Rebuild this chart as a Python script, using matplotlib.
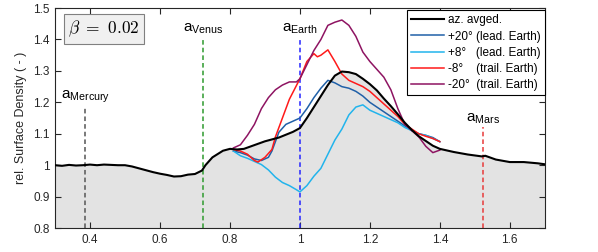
import matplotlib
matplotlib.use('Agg')
import matplotlib.pyplot as plt

plt.rcParams['font.family'] = ['Liberation Sans', 'DejaVu Sans']

# azimuthally averaged profile
avg_x = [0.30, 0.32, 0.34, 0.36, 0.38, 0.40, 0.42, 0.44, 0.46, 0.48, 0.50, 0.52, 0.54, 0.56,
         0.58, 0.60, 0.62, 0.64, 0.66, 0.68, 0.70, 0.72, 0.73, 0.75, 0.78, 0.80, 0.82, 0.84,
         0.86, 0.88, 0.90, 0.92, 0.94, 0.96, 0.98, 1.00, 1.02, 1.04, 1.06, 1.08, 1.10, 1.12,
         1.14, 1.16, 1.18, 1.20, 1.22, 1.24, 1.26, 1.28, 1.30, 1.32, 1.34, 1.36, 1.38, 1.40,
         1.44, 1.48, 1.52, 1.53, 1.56, 1.60, 1.64, 1.68, 1.70]
avg_y = [1.000, 0.998, 1.001, 0.999, 1.000, 1.002, 1.000, 1.002, 1.001, 1.000, 1.000, 0.996,
         0.990, 0.984, 0.978, 0.973, 0.969, 0.964, 0.965, 0.970, 0.972, 0.983, 1.000, 1.025,
         1.046, 1.052, 1.050, 1.052, 1.060, 1.068, 1.076, 1.082, 1.088, 1.097, 1.106, 1.118,
         1.150, 1.185, 1.220, 1.255, 1.285, 1.298, 1.296, 1.290, 1.275, 1.258, 1.238, 1.212,
         1.188, 1.162, 1.135, 1.112, 1.092, 1.077, 1.062, 1.052, 1.042, 1.034, 1.028, 1.030,
         1.018, 1.010, 1.010, 1.006, 1.003]

lead20_x = [0.81, 0.83, 0.85, 0.87, 0.89, 0.91, 0.92, 0.93, 0.94, 0.96, 0.98, 1.00, 1.02, 1.04,
            1.06, 1.08, 1.10, 1.12, 1.14, 1.16, 1.18, 1.20, 1.22, 1.24, 1.26, 1.28, 1.30, 1.32,
            1.34, 1.36, 1.38, 1.40]
lead20_y = [1.045, 1.040, 1.032, 1.020, 1.015, 1.025, 1.045, 1.075, 1.105, 1.130, 1.140, 1.150,
            1.180, 1.215, 1.245, 1.270, 1.262, 1.250, 1.245, 1.235, 1.220, 1.200, 1.185, 1.170,
            1.155, 1.140, 1.125, 1.110, 1.100, 1.095, 1.088, 1.075]

lead8_x = [0.81, 0.83, 0.85, 0.87, 0.89, 0.91, 0.93, 0.95, 0.97, 0.99, 1.00, 1.02, 1.04, 1.06,
           1.08, 1.10, 1.12, 1.14, 1.16, 1.18, 1.20, 1.22, 1.24, 1.26, 1.28, 1.30, 1.32, 1.34,
           1.36, 1.38, 1.40]
lead8_y = [1.045, 1.030, 1.022, 1.012, 1.002, 0.985, 0.962, 0.945, 0.935, 0.922, 0.915, 0.935,
           0.965, 0.990, 1.035, 1.080, 1.115, 1.160, 1.185, 1.192, 1.175, 1.165, 1.155, 1.145,
           1.135, 1.120, 1.110, 1.100, 1.095, 1.085, 1.075]

trail8_x = [0.81, 0.83, 0.85, 0.87, 0.88, 0.90, 0.92, 0.93, 0.95, 0.97, 1.00, 1.02, 1.04, 1.05,
            1.06, 1.08, 1.10, 1.12, 1.14, 1.16, 1.18, 1.20, 1.22, 1.24, 1.26, 1.28, 1.30, 1.32,
            1.34, 1.36, 1.38, 1.40]
trail8_y = [1.050, 1.045, 1.035, 1.015, 1.010, 1.025, 1.050, 1.090, 1.150, 1.210, 1.275, 1.330,
            1.355, 1.345, 1.350, 1.367, 1.330, 1.290, 1.270, 1.260, 1.250, 1.235, 1.215, 1.195,
            1.175, 1.155, 1.130, 1.115, 1.100, 1.092, 1.085, 1.075]

trail20_x = [0.81, 0.83, 0.85, 0.87, 0.89, 0.91, 0.93, 0.95, 0.97, 0.99, 1.00, 1.02, 1.04, 1.06,
             1.08, 1.10, 1.12, 1.14, 1.16, 1.18, 1.20, 1.22, 1.24, 1.26, 1.28, 1.30, 1.32, 1.34,
             1.36, 1.38, 1.40]
trail20_y = [1.055, 1.065, 1.095, 1.130, 1.180, 1.215, 1.240, 1.255, 1.265, 1.265, 1.275, 1.320,
             1.365, 1.400, 1.445, 1.455, 1.462, 1.445, 1.410, 1.360, 1.330, 1.305, 1.280, 1.240,
             1.180, 1.130, 1.110, 1.090, 1.060, 1.040, 1.048]

planets = ['Mercury', 'Venus', 'Earth', 'Mars']
planet_a = [0.387, 0.723, 1.0, 1.524]
planet_top = [1.185, 1.40, 1.40, 1.12]
planet_label_y = [1.192, 1.41, 1.41, 1.125]
planet_colors = ['#555555', '#2e9a2e', '#2525ff', '#e83a3a']

fig = plt.figure(figsize=(5.98, 2.52), dpi=100)
ax = fig.add_axes([0.092, 0.095, 0.819, 0.873])

ax.fill_between(avg_x, avg_y, 0.8, color='#e3e3e3', lw=0, zorder=1)

for name, a, top, ly, c in zip(planets, planet_a, planet_top, planet_label_y, planet_colors):
    ax.plot([a, a], [0.8, top], ls=(0, (3, 2)), color=c, lw=1.1, zorder=2)
    ax.text(a, ly, 'a$_{\\mathregular{%s}}$' % name, ha='center', va='bottom', fontsize=11)

ax.plot(avg_x, avg_y, color='black', lw=1.5, label='az. avged.', zorder=5)
ax.plot(lead20_x, lead20_y, color='#2060a8', lw=1.1, label='+20° (lead. Earth)', zorder=3)
ax.plot(lead8_x, lead8_y, color='#22b4ec', lw=1.1, label='+8°   (lead. Earth)', zorder=3)
ax.plot(trail8_x, trail8_y, color='#ff1a1a', lw=1.1, label='-8°    (trail. Earth)', zorder=3)
ax.plot(trail20_x, trail20_y, color='#8e1462', lw=1.1, label='-20°  (trail. Earth)', zorder=3)

ax.set_xlim(0.3, 1.7)
ax.set_ylim(0.8, 1.5)
ax.set_xticks([0.4, 0.6, 0.8, 1.0, 1.2, 1.4, 1.6])
ax.set_xticklabels(['0.4', '0.6', '0.8', '1', '1.2', '1.4', '1.6'])
ax.set_yticks([0.8, 0.9, 1.0, 1.1, 1.2, 1.3, 1.4, 1.5])
ax.set_yticklabels(['0.8', '0.9', '1', '1.1', '1.2', '1.3', '1.4', '1.5'])
ax.tick_params(direction='in', top=True, right=True, length=4, width=0.8,
               labelsize=8.5, colors='#262626', pad=4)
for s in ax.spines.values():
    s.set_color('#262626')
    s.set_linewidth(0.8)
ax.set_ylabel('rel. Surface Density ( - )', fontsize=9, color='#262626')

ax.text(0.027, 0.905, r'$\beta\ =\ 0.02$', transform=ax.transAxes, fontsize=12.5,
        math_fontfamily='cm', va='center', ha='left',
        bbox=dict(boxstyle='square,pad=0.25', fc='#f0f0f0', ec='#808080', lw=0.8), zorder=6)

leg = ax.legend(loc='upper right', bbox_to_anchor=(1.0, 0.99), borderaxespad=0,
                fontsize=8.5, frameon=True, fancybox=False, framealpha=1,
                edgecolor='black', handlelength=2.8, labelspacing=0.35, borderpad=0.35,
                handletextpad=0.3)
leg.get_frame().set_linewidth(0.8)
leg.set_zorder(7)

fig.savefig('out.png', dpi=100)
